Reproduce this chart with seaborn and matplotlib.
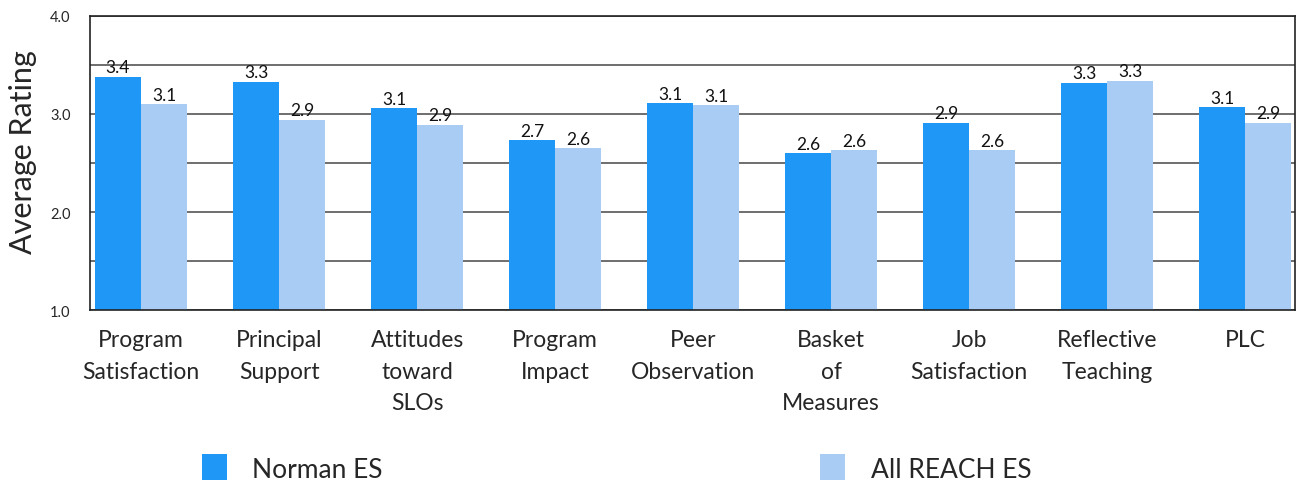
import seaborn as sns
import matplotlib.pyplot as plt
import pandas as pd
from matplotlib.ticker import MultipleLocator

categories = ["Program\nSatisfaction", "Principal\nSupport", "Attitudes\ntoward\nSLOs",
              "Program\nImpact", "Peer\nObservation", "Basket\nof\nMeasures",
              "Job\nSatisfaction", "Reflective\nTeaching", "PLC"]
norman_es = [3.38, 3.33, 3.06, 2.73, 3.11, 2.60, 2.91, 3.32, 3.07]
all_reach_es = [3.10, 2.94, 2.89, 2.65, 3.09, 2.63, 2.63, 3.34, 2.91]
series = ["Norman ES", "All REACH ES"]
colors = ["#1e97f7", "#a8ccf4"]

df = pd.DataFrame({
    "category": categories * 2,
    "rating": norman_es + all_reach_es,
    "school": [series[0]] * len(categories) + [series[1]] * len(categories),
})

sns.set_style("white")
plt.rcParams["font.family"] = ["Lato", "DejaVu Sans"]

fig = plt.figure(figsize=(12.96, 4.81), dpi=100)
ax = fig.add_axes([0.0694, 0.3534, 0.9298, 0.6113])

sns.barplot(data=df, x="category", y="rating", hue="school", palette=colors,
            width=0.667, saturation=1, linewidth=0, ax=ax, zorder=2)

for cont in ax.containers:
    ax.bar_label(cont, fmt="%.1f", padding=1, fontsize=12.5, color="#111111")

ax.set_ylim(1.0, 4.0)
ax.set_xlim(-0.37, 8.36)
ax.yaxis.set_major_locator(MultipleLocator(1.0))
ax.yaxis.set_minor_locator(MultipleLocator(0.5))
ax.set_yticklabels([f"{v:.1f}" for v in ax.get_yticks()])
ax.tick_params(axis="y", which="both", length=0, labelsize=10.5, pad=14)
ax.tick_params(axis="x", length=0, labelsize=16.5, pad=14)
for lbl in ax.get_xticklabels():
    lbl.set_linespacing(1.6)
ax.grid(axis="y", which="both", color="#555555", linewidth=1.2, zorder=0)
ax.set_axisbelow(True)
for s in ax.spines.values():
    s.set_color("#222222")
    s.set_linewidth(1.2)

ax.set_xlabel("")
ax.set_ylabel("Average Rating", fontsize=22)
ax.yaxis.set_label_coords(-0.044, 0.54)

handles, labels = ax.get_legend_handles_labels()
ax.legend_.remove()
fig.legend(handles, labels, ncol=2, loc="upper left", bbox_to_anchor=(0.1475, 0.075),
           frameon=False, fontsize=19, handlelength=0.95, handleheight=1.2,
           handletextpad=0.95, columnspacing=16.6, borderaxespad=0)

fig.savefig("out.png", dpi=100)
